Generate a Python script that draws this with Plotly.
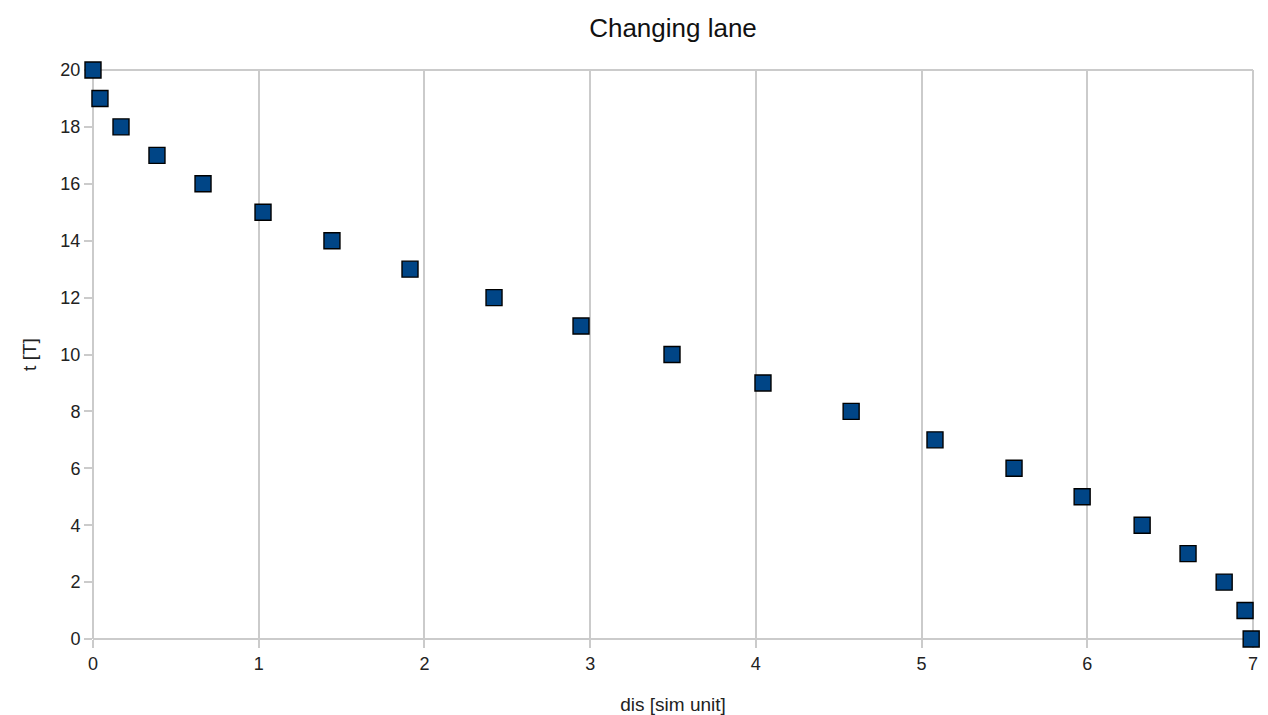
import plotly.graph_objects as go

dis = [0.0, 0.042, 0.169, 0.386, 0.664, 1.026, 1.442, 1.913, 2.420, 2.945,
       3.494, 4.043, 4.575, 5.081, 5.558, 5.969, 6.331, 6.608, 6.826, 6.952, 6.989]
t = [20, 19, 18, 17, 16, 15, 14, 13, 12, 11, 10, 9, 8, 7, 6, 5, 4, 3, 2, 1, 0]

title_text = "Changing lane"
x_title = "dis [sim unit]"
y_title = "t [T]"

fig = go.Figure()
fig.add_trace(go.Scatter(
    x=dis, y=t, mode="markers",
    marker=dict(symbol="square", size=16, color="#004586",
                line=dict(color="#000000", width=1.4)),
    cliponaxis=False, showlegend=False,
))

grid = "#cbcbcb"
fig.update_layout(
    template="none",
    width=1260, height=707,
    margin=dict(l=85, r=15, t=62, b=76, autoexpand=False),
    paper_bgcolor="white", plot_bgcolor="white",
    font=dict(family="Liberation Sans, Arial, sans-serif", color="#222222", size=18),
    title=dict(text=title_text, x=0.5, xanchor="center", xref="paper",
               y=1 - 20 / 707, yanchor="middle",
               font=dict(size=26, color="#111111")),
    xaxis=dict(range=[0, 7], dtick=1, tick0=0, showgrid=True, gridcolor=grid, gridwidth=2,
               zeroline=False, showline=False, ticks="outside", ticklen=8, tickcolor=grid,
               tickwidth=2, tickfont=dict(size=18), automargin=False, layer="below traces",
               title=dict(text=x_title, font=dict(size=19), standoff=30)),
    yaxis=dict(range=[0, 20], dtick=2, tick0=0, showgrid=False,
               zeroline=False, showline=False, ticks="outside", ticklen=8, tickcolor=grid,
               tickwidth=2, tickfont=dict(size=18), automargin=False, layer="below traces",
               title=dict(text=y_title, font=dict(size=19), standoff=18)),
)
for (x0, x1, y0, y1) in [(0, 1, 1, 1), (0, 1, 0, 0), (1, 1, 0, 1), (0, 0, 0, 1)]:
    fig.add_shape(type="line", xref="paper", yref="paper", x0=x0, x1=x1, y0=y0, y1=y1,
                  line=dict(color=grid, width=2), layer="below")

fig.write_html("out.html")
